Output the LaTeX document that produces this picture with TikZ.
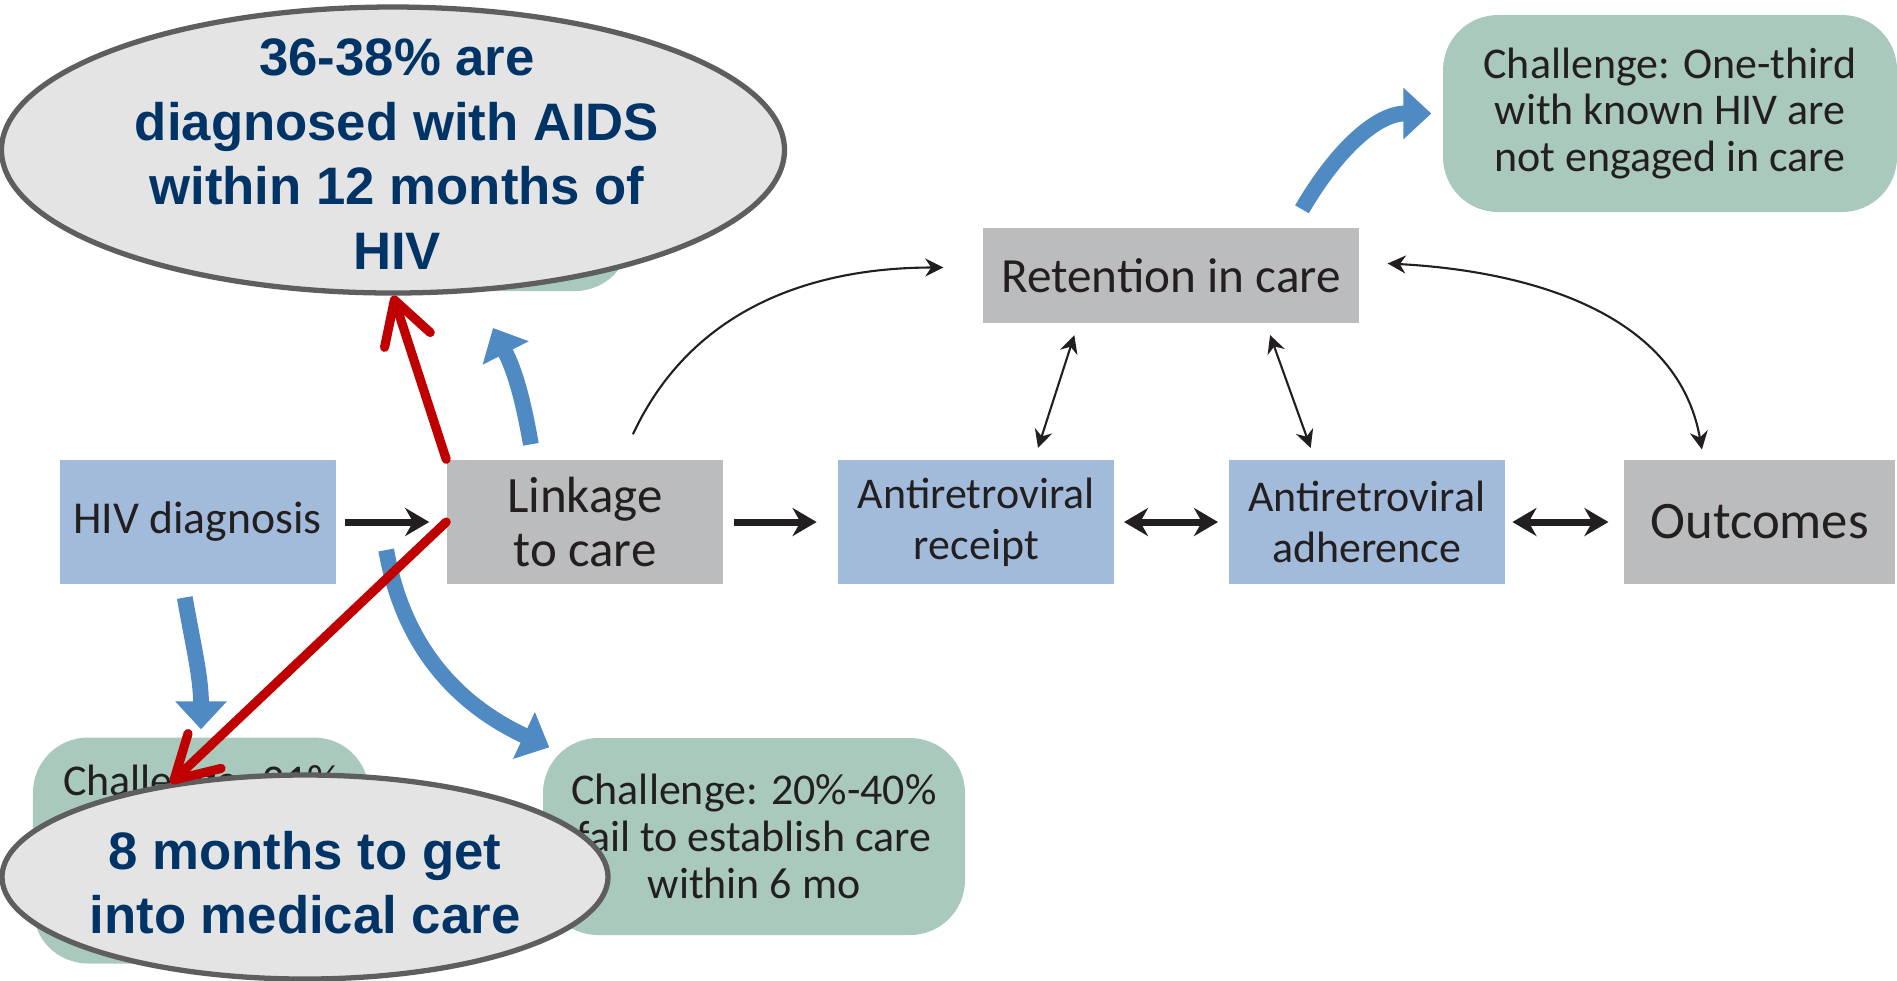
\documentclass[tikz,border=0pt]{standalone}
\usepackage{fontspec}
\setmainfont{Carlito}
\newfontfamily\calloutfont{Liberation Sans}
\usepackage{tikz}
\usetikzlibrary{arrows.meta,positioning,shapes.geometric}
\definecolor{stageblue}{RGB}{162,187,219}
\definecolor{caregrey}{RGB}{187,188,190}
\definecolor{challgreen}{RGB}{168,201,188}
\definecolor{arrowblue}{RGB}{79,138,194}
\definecolor{alarmred}{RGB}{192,0,0}
\definecolor{calloutfill}{RGB}{228,228,228}
\definecolor{calloutline}{RGB}{94,94,94}
\definecolor{navy}{RGB}{0,51,102}
\definecolor{ink}{RGB}{35,31,32}
\tikzset{
  stagebox/.style={fill=stageblue, minimum width=27.6mm, minimum height=12.4mm,
    align=center, inner sep=1pt, text=ink, font=\fontsize{12.5}{14.5}\selectfont},
  carebox/.style={stagebox, fill=caregrey},
  challenge/.style={fill=challgreen, rounded corners=5.5mm, minimum width=42.2mm,
    minimum height=19.7mm, align=center, inner sep=1pt, text=ink, font=\fontsize{12.5}{13.3}\selectfont},
  challtext/.style={align=center, inner sep=0pt, text=ink, font=\fontsize{12.5}{13.3}\selectfont},
  callout/.style={ellipse, draw=calloutline, line width=1.5pt, fill=calloutfill, inner sep=0pt},
  callouttext/.style={align=center, inner sep=0pt, text=navy,
    font=\calloutfont\bfseries\fontsize{15}{18.4}\selectfont},
  flow/.style={-{Stealth[length=2.4mm,width=2.8mm]}, line width=2pt, draw=ink},
  twoway/.style={{Stealth[length=2.4mm,width=2.8mm]}-{Stealth[length=2.4mm,width=2.8mm]}, line width=2pt, draw=ink},
  thinflow/.style={-{Stealth[length=1.8mm,width=1.8mm]}, line width=0.6pt, draw=ink},
  thintwo/.style={{Stealth[length=1.8mm,width=1.8mm]}-{Stealth[length=1.8mm,width=1.8mm]}, line width=0.6pt, draw=ink},
  fatarrow/.style={-{Triangle[length=2.8mm,width=5mm]}, line width=4.5pt, draw=arrowblue},
  redarrow/.style={-{Straight Barb[length=4.2mm,width=4.8mm,round]}, line width=2.6pt, draw=alarmred, line cap=round}
}

\begin{document}
\begin{tikzpicture}
\useasboundingbox (0,0) rectangle (18.97,-9.80);

% cascade of care
\node[stagebox, font=\fontsize{13}{15}\selectfont] (diag) at (1.975,-5.22) {HIV diagnosis};
\node[carebox, right=11mm of diag, font=\fontsize{14.5}{15.4}\selectfont] (link) {Linkage\\to care};
\node[stagebox, right=11.4mm of link] (receipt) {Antiretroviral\\receipt};
\node[stagebox, right=11.3mm of receipt] (adhere) {Antiretroviral\\adherence};
\node[carebox, right=11.8mm of adhere, minimum width=27.1mm, font=\fontsize{15}{17}\selectfont] (outcome) {Outcomes};
\node[carebox, minimum width=37.6mm, minimum height=9.5mm, font=\fontsize{14}{16}\selectfont] (retain) at (11.71,-2.755) {Retention in care};

% challenges
\node[challenge, minimum width=45.4mm] (onethird) at (16.70,-1.135) {Challenge: One-third\\with known HIV are\\not engaged in care};
\node[challenge, minimum width=33mm, minimum height=19.6mm] (hidden) at (4.65,-1.93) {};
\node[challenge, minimum width=33.6mm, minimum height=22.6mm] (early) at (2.01,-8.505) {};
\node[challtext, below=2.7mm of early.north] (earlytext) {Challenge: 21\%};
\node[challenge] (fail) at (7.54,-8.365) {Challenge: 20\%-40\%\\fail to establish care\\within 6 mo};

% callouts
\node[callout, minimum width=78.3mm, minimum height=28.6mm] (aids) at (3.93,-1.50) {};
\node[callouttext] (aidstext) at ([shift={(0.04,-0.04)}]aids.center) {36-38\% are\\diagnosed with AIDS\\within 12 months of\\HIV};
\node[callout, minimum width=60.6mm, minimum height=20.4mm] (months) at (3.05,-8.77) {};
\node[callouttext] (monthstext) at ([yshift=-0.55mm]months.center) {8 months to get\\into medical care};

\draw[flow, shorten <=0.9mm, shorten >=1.7mm] (diag) -- (link);
\draw[flow, shorten <=1mm, shorten >=2.1mm] (link) -- (receipt);
\draw[twoway, shorten <=0.9mm, shorten >=1mm] (receipt) -- (adhere);
\draw[twoway, shorten <=0.7mm, shorten >=1.5mm] (adhere) -- (outcome);

\draw[thinflow, shorten >=3.9mm] ([xshift=4.8mm,yshift=2.5mm]link.north) to[out=65,in=180] ([yshift=0.8mm]retain.west);
\draw[thintwo, shorten <=1.2mm, shorten >=1.2mm] ([xshift=-9.3mm]retain.south) -- ([xshift=5.8mm]receipt.north);
\draw[thintwo, shorten <=1.2mm, shorten >=1.2mm] ([xshift=9.5mm]retain.south) -- ([xshift=-5.2mm]adhere.north);
\draw[thintwo, shorten <=2.8mm, shorten >=1mm] ([yshift=1.35mm]retain.east) to[out=-3,in=100] ([xshift=-5.6mm]outcome.north);

% challenge arrows
\coordinate (upgap) at (4.93,-3.28);
\draw[fatarrow, shorten <=1.3mm, shorten >=0.75mm] ([xshift=-1.5mm]diag.south) to[out=-80,in=90] (early.north);
\draw[fatarrow] ([xshift=-6mm,yshift=-2.8mm]link.west) to[out=-80,in=155] ([xshift=0.7mm,yshift=-1mm]fail.north west);
\draw[fatarrow] ([xshift=-5.4mm,yshift=1.5mm]link.north) to[out=100,in=-63] (upgap);
\draw[fatarrow, shorten >=1.1mm] ([xshift=13.1mm,yshift=1.8mm]retain.north) to[out=60,in=180] (onethird.west);

\draw[redarrow] (link.north west) -- (aids.south);
\draw[redarrow] (link.west) -- (months.145);
\end{tikzpicture}
\end{document}
